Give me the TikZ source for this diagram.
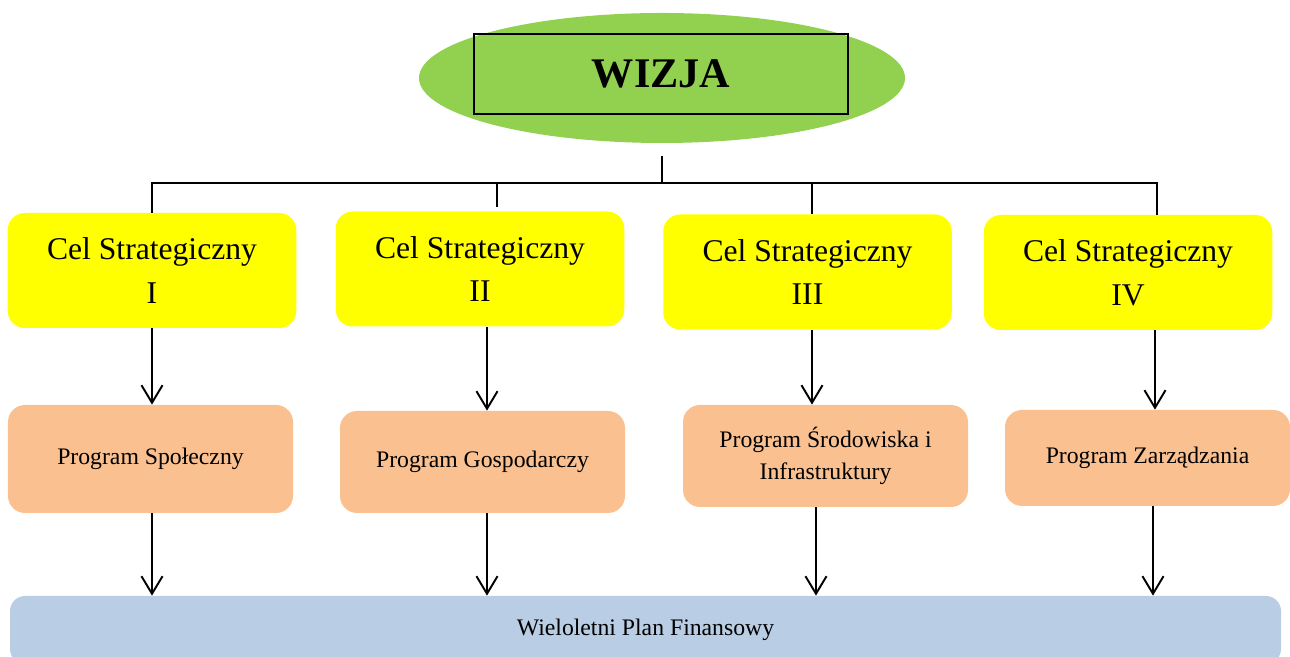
\documentclass[tikz,border=0pt]{standalone}
\usepackage{fontspec}
\setmainfont{Liberation Serif}
\usetikzlibrary{shapes.geometric, arrows.meta}
\definecolor{wizgreen}{HTML}{92D050}
\definecolor{celyellow}{HTML}{FFFF00}
\definecolor{progorange}{HTML}{FAC090}
\definecolor{planblue}{HTML}{B9CDE5}
\tikzset{
    conn/.style={draw=black, line width=1.1pt},
    arr/.style={conn, -{Straight Barb[length=10pt,width=12pt]}},
    celbox/.style={
        fill=celyellow,
        rounded corners=0.34cm,
        minimum width=5.77cm,
        minimum height=2.3cm,
        align=center,
        font=\fontsize{18}{25}\selectfont
    },
    progbox/.style={
        fill=progorange,
        rounded corners=0.34cm,
        minimum width=5.7cm,
        minimum height=2.04cm,
        align=center,
        font=\fontsize{13.5}{18}\selectfont
    },
    planbox/.style={
        fill=planblue,
        rounded corners=0.3cm,
        minimum width=25.42cm,
        minimum height=1.36cm,
        font=\fontsize{13.5}{18}\selectfont
    }
}

\begin{document}
\begin{tikzpicture}
    \useasboundingbox (0,0) rectangle (25.8,13.14);

    \node[ellipse, fill=wizgreen, minimum width=9.72cm, minimum height=2.6cm, inner sep=0] (ell) at (13.24,11.58) {};
    \node[draw=black, line width=1.1pt, minimum width=7.48cm, minimum height=1.6cm,
        font=\fontsize{24}{28}\selectfont\bfseries] (wiz) at (13.22,11.66) {WIZJA};

    \node[celbox] (cs1) at (3.04,7.73) {Cel Strategiczny\\I};
    \node[celbox] (cs2) at (9.60,7.76) {Cel Strategiczny\\II};
    \node[celbox] (cs3) at (16.15,7.70) {Cel Strategiczny\\III};
    \node[celbox] (cs4) at (22.56,7.69) {Cel Strategiczny\\IV};

    \node[progbox, minimum height=2.16cm] (ps1) at (3.01,3.96) {Program Społeczny};
    \node[progbox] (ps2) at (9.65,3.90) {Program Gospodarczy};
    \node[progbox] (ps3) at (16.51,4.02) {Program Środowiska i\\Infrastruktury};
    \node[progbox, minimum height=1.92cm] (ps4) at (22.95,3.98) {Program Zarządzania};

    \node[planbox] (plan) at (12.91,0.54) {Wieloletni Plan Finansowy};

    \coordinate (bus) at (13.24,9.48);
    \draw[conn] ([yshift=-0.26cm]ell.south) -- (bus);
    \draw[conn] (cs1.north) |- (bus) -| ([xshift=0.58cm]cs4.north);
    \draw[conn] ([xshift=0.34cm,yshift=0.08cm]cs2.north) -- ([xshift=0.34cm]cs2.north |- bus);
    \draw[conn] ([xshift=0.09cm]cs3.north) -- ([xshift=0.09cm]cs3.north |- bus);

    \draw[arr] (cs1.south) -- (cs1.south |- ps1.north);
    \draw[arr] ([xshift=0.14cm]cs2.south) -- ([xshift=0.14cm]cs2.south |- ps2.north);
    \draw[arr] ([xshift=0.09cm]cs3.south) -- ([xshift=0.09cm]cs3.south |- ps3.north);
    \draw[arr] ([xshift=0.54cm]cs4.south) -- ([xshift=0.54cm]cs4.south |- ps4.north);

    \draw[arr] ([xshift=0.03cm]ps1.south) -- ([xshift=0.03cm]ps1.south |- plan.north);
    \draw[arr] ([xshift=0.09cm]ps2.south) -- ([xshift=0.09cm]ps2.south |- plan.north);
    \draw[arr] ([xshift=-0.19cm]ps3.south) -- ([xshift=-0.19cm]ps3.south |- plan.north);
    \draw[arr] ([xshift=0.11cm]ps4.south) -- ([xshift=0.11cm]ps4.south |- plan.north);
\end{tikzpicture}
\end{document}
